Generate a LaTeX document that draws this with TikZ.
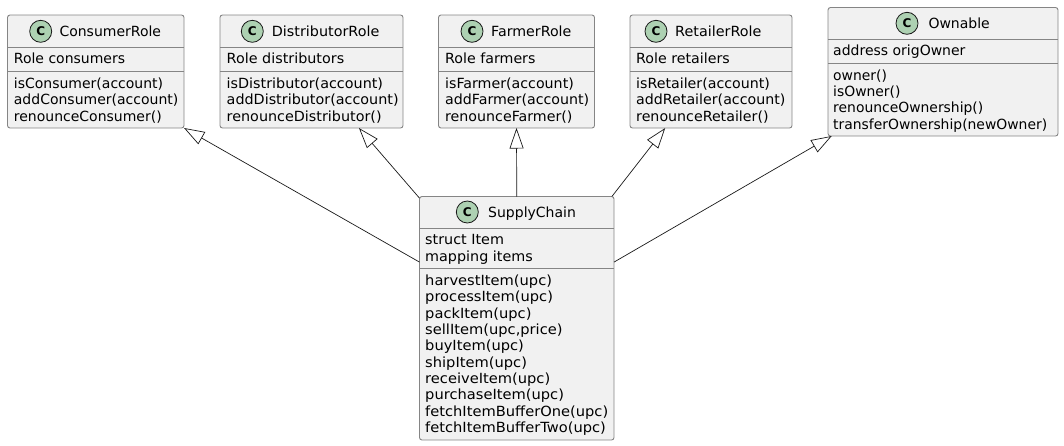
\documentclass[tikz,border=0pt]{standalone}
\usepackage{fontspec}
\setmainfont{DejaVu Sans}
\newfontfamily\facea[FakeStretch=1.015]{DejaVu Sans}
\newfontfamily\faceb[FakeStretch=1.025]{DejaVu Sans}
\newfontfamily\facec[FakeStretch=1.047]{DejaVu Sans}
\newfontfamily\faced[FakeStretch=0.993]{DejaVu Sans}
\usetikzlibrary{arrows.meta}
\definecolor{boxfill}{HTML}{F1F1F1}
\definecolor{boxline}{HTML}{858585}
\definecolor{spotfill}{HTML}{ADD1B2}
\definecolor{inkline}{HTML}{181818}
\tikzset{
  classbox/.style={draw=boxline,fill=boxfill,line width=0.9pt,rounded corners=2.5pt,
    inner sep=0pt,outer sep=0pt},
  classrule/.style={draw=boxline,line width=0.9pt},
  spot/.style={circle,draw=inkline,fill=spotfill,line width=0.8pt,minimum size=22pt,
    inner sep=0pt,font=\fontsize{12}{12}\selectfont\bfseries},
  title/.style={anchor=base west,inner sep=0pt,font=#1\fontsize{14}{14}\selectfont},
  title/.default=\relax,
  members/.style={anchor=north west,inner sep=0pt,align=left,
    font=#1\fontsize{14}{16.33}\selectfont},
  members/.default=\relax,
  inherit/.style={draw=inkline,line width=0.7pt,
    {Triangle[open,length=20.5pt,width=14pt]}-}
}
\begin{document}
\begin{tikzpicture}[x=1pt,y=-1pt]
  \useasboundingbox (0,0) rectangle (1064,445);
  \def\ya{47}
  \def\yb{71}
  \def\yc{39.5}
  \def\yd{63}
  \def\ye{228.5}
  \def\yf{268.5}
  % upper row
  \node[classbox,minimum width=176.5pt,minimum height=113pt] (ConsumerRole) at (95.75,71.5) {};
  \node[classbox,minimum width=183pt,minimum height=113pt] (DistributorRole) at (311.5,71.5) {};
  \node[classbox,minimum width=156pt,minimum height=113pt] (FarmerRole) at (516.5,71.5) {};
  \node[classbox,minimum width=162pt,minimum height=113pt] (RetailerRole) at (711,71.5) {};
  \node[classbox,minimum width=230pt,minimum height=128.5pt] (Ownable) at (943,71.75) {};
  % lower class
  \node[classbox,minimum width=194.5pt,minimum height=243.5pt] (SupplyChain) at (516.75,318.25) {};
  % separators
  \draw[classrule] (ConsumerRole.west |- 0,\ya) -- (ConsumerRole.east |- 0,\ya);
  \draw[classrule] (ConsumerRole.west |- 0,\yb) -- (ConsumerRole.east |- 0,\yb);
  \draw[classrule] (DistributorRole.west |- 0,\ya) -- (DistributorRole.east |- 0,\ya);
  \draw[classrule] (DistributorRole.west |- 0,\yb) -- (DistributorRole.east |- 0,\yb);
  \draw[classrule] (FarmerRole.west |- 0,\ya) -- (FarmerRole.east |- 0,\ya);
  \draw[classrule] (FarmerRole.west |- 0,\yb) -- (FarmerRole.east |- 0,\yb);
  \draw[classrule] (RetailerRole.west |- 0,\ya) -- (RetailerRole.east |- 0,\ya);
  \draw[classrule] (RetailerRole.west |- 0,\yb) -- (RetailerRole.east |- 0,\yb);
  \draw[classrule] (Ownable.west |- 0,\yc) -- (Ownable.east |- 0,\yc);
  \draw[classrule] (Ownable.west |- 0,\yd) -- (Ownable.east |- 0,\yd);
  \draw[classrule] (SupplyChain.west |- 0,\ye) -- (SupplyChain.east |- 0,\ye);
  \draw[classrule] (SupplyChain.west |- 0,\yf) -- (SupplyChain.east |- 0,\yf);
  % headers
  \node[spot] (spotConsumer) at (40.7,31.3) {C};
  \node[title] (nameConsumer) at (59.3,36) {ConsumerRole};
  \node[spot] (spotDistributor) at (252.3,31.3) {C};
  \node[title=\faceb] (nameDistributor) at (271.7,36) {DistributorRole};
  \node[spot] (spotFarmer) at (472,31.3) {C};
  \node[title=\facea] (nameFarmer) at (491,36) {FarmerRole};
  \node[spot] (spotRetailer) at (656,31.3) {C};
  \node[title=\faceb] (nameRetailer) at (675,36) {RetailerRole};
  \node[spot] (spotOwnable) at (907,23.3) {C};
  \node[title] (nameOwnable) at (928.3,28) {Ownable};
  \node[spot] (spotSupply) at (467.3,212) {C};
  \node[title] (nameSupply) at (488,217) {SupplyChain};
  % fields
  \node[members] (attrConsumer) at (13.7,53) {Role consumers};
  \node[members=\faceb] (attrDistributor) at (226.5,53) {Role distributors};
  \node[members=\facea] (attrFarmer) at (445,53) {Role farmers};
  \node[members=\facea] (attrRetailer) at (636,53) {Role retailers};
  \node[members] (attrOwnable) at (833,45) {address origOwner};
  \node[members=\faceb] (attrSupply) at (425,234.5) {struct Item\\mapping items};
  % methods
  \node[members] (funcConsumer) at (13.7,77.5) {isConsumer(account)\\addConsumer(account)\\renounceConsumer()};
  \node[members=\faceb] (funcDistributor) at (226.5,77.5) {isDistributor(account)\\addDistributor(account)\\renounceDistributor()};
  \node[members=\facea] (funcFarmer) at (445,77.5) {isFarmer(account)\\addFarmer(account)\\renounceFarmer()};
  \node[members=\facea] (funcRetailer) at (636,77.5) {isRetailer(account)\\addRetailer(account)\\renounceRetailer()};
  \node[members=\faced] (funcOwnable) at (833,69.5) {owner()\\isOwner()\\renounceOwnership()\\transferOwnership(newOwner)};
  \node[members=\facec] (funcSupply) at (425,274.8) {harvestItem(upc)\\processItem(upc)\\packItem(upc)\\sellItem(upc,price)\\buyItem(upc)\\shipItem(upc)\\receiveItem(upc)\\purchaseItem(upc)\\fetchItemBufferOne(upc)\\fetchItemBufferTwo(upc)};
  % generalisations
  \draw[inherit] (ConsumerRole.south east) -- (SupplyChain.150);
  \draw[inherit] (DistributorRole.-50.5) -- (SupplyChain.129.7);
  \draw[inherit] (FarmerRole.south) -- (SupplyChain.90);
  \draw[inherit] (RetailerRole.231.5) -- (SupplyChain.52);
  \draw[inherit] (Ownable.210) -- (SupplyChain.30);
\end{tikzpicture}
\end{document}
